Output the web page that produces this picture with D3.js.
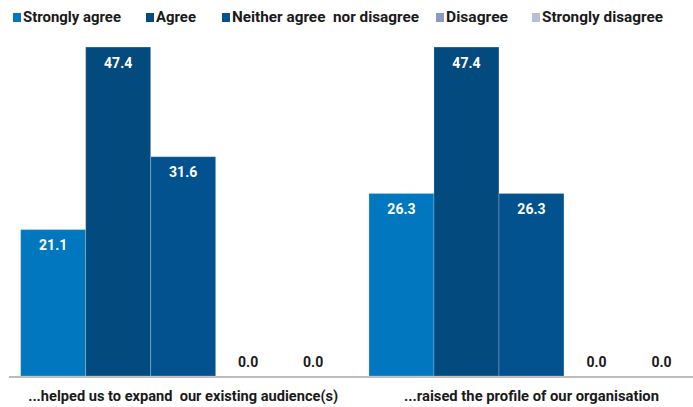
<!DOCTYPE html>
<html><head><meta charset="utf-8">
<script src="https://cdn.jsdelivr.net/npm/d3@7"></script>
<style>
body{margin:0;background:#fff;}
text{font-family:Roboto,"Open Sans",sans-serif;}
</style></head>
<body><svg id="c" width="693" height="407"></svg>
<script>
const categories = ["...helped us to expand  our existing audience(s)", "...raised the profile of our organisation"];
const seriesNames = ["Strongly agree", "Agree", "Neither agree  nor disagree", "Disagree", "Strongly disagree"];
const stronglyAgree = [21.1, 26.3];
const agree = [47.4, 47.4];
const neither = [31.6, 26.3];
const disagree = [0.0, 0.0];
const stronglyDisagree = [0.0, 0.0];
const colors = ["#0077bf", "#034a7f", "#01528f", "#8a9bbb", "#b8c0d6"];

const seriesValues = [stronglyAgree, agree, neither, disagree, stronglyDisagree];
const svg = d3.select("#c");
const x0 = d3.scaleBand().domain(categories).range([9, 705.6]).paddingInner(0).paddingOuter(0);
const x1 = d3.scaleBand().domain(seriesNames).range([11.65, 348.3 - 11.65]).padding(0);
const y = d3.scaleLinear().domain([0, 50]).range([376, 29]);

// axis line
svg.append("line").attr("x1", 9).attr("x2", 693).attr("y1", 377).attr("y2", 377)
  .attr("stroke", "#a6a6a6").attr("stroke-width", 1.5);

const catWidths = [310, 255];
categories.forEach((cat, ci) => {
  const g = svg.append("g").attr("transform", `translate(${x0(cat)},0)`);
  seriesNames.forEach((s, si) => {
    const v = seriesValues[si][ci];
    const bx = x1(s), bw = x1.bandwidth();
    if (v > 0) {
      g.append("rect").attr("x", bx).attr("y", y(v)).attr("width", bw).attr("height", y(0) - y(v))
        .attr("fill", colors[si]).attr("stroke", "rgba(255,255,255,0.22)").attr("stroke-width", 1);
      g.append("text").attr("x", bx + bw / 2).attr("y", y(v) + 20.5).attr("text-anchor", "middle")
        .attr("fill", "#fff").attr("font-size", 14).attr("font-weight", "bold").text(v.toFixed(1));
    } else {
      g.append("text").attr("x", bx + bw / 2).attr("y", y(0) - 9).attr("text-anchor", "middle")
        .attr("fill", "#1a1a1a").attr("font-size", 14).attr("font-weight", "bold").text(v.toFixed(1));
    }
  });
  svg.append("text").attr("x", x0(cat) + x0.bandwidth() / 2 - catWidths[ci] / 2).attr("y", 401)
    .attr("textLength", catWidths[ci]).attr("lengthAdjust", "spacingAndGlyphs")
    .attr("fill", "#1a1a1a").attr("font-size", 14).attr("font-weight", "bold").style("white-space", "pre").text(cat);
});

// legend
const legX = [13, 146, 222, 436, 532];
const legW = [98, 40, 187, 62, 121];
seriesNames.forEach((s, i) => {
  svg.append("rect").attr("x", legX[i]).attr("y", 13).attr("width", 8).attr("height", 9).attr("fill", colors[i]);
  svg.append("text").attr("x", legX[i] + 10).attr("y", 21.5).attr("fill", "#1a1a1a")
    .attr("textLength", legW[i]).attr("lengthAdjust", "spacingAndGlyphs")
    .attr("font-size", 14).attr("font-weight", "bold").style("white-space", "pre").text(s);
});
</script></body></html>
